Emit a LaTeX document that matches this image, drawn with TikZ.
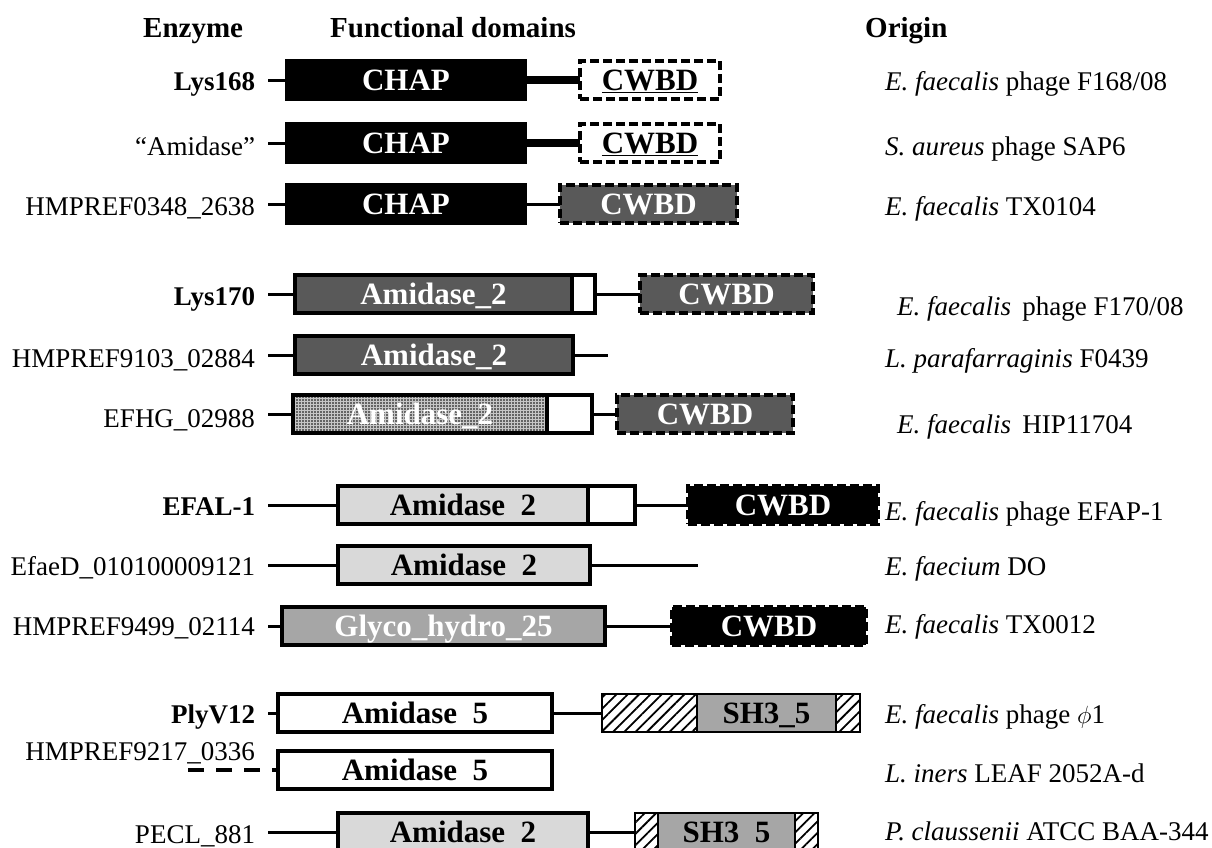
\documentclass[tikz,border=0pt]{standalone}
\usepackage{fontspec}
\setmainfont{Liberation Serif}
\usetikzlibrary{patterns.meta}
\definecolor{dgrey}{HTML}{595959}
\definecolor{lgrey}{HTML}{D9D9D9}
\definecolor{mgrey}{HTML}{A6A6A6}
\newcommand\fsz{\fontsize{27}{30}\selectfont}
\newcommand\dsz{\fontsize{31}{34}\selectfont}
\newcommand\hsz{\fontsize{29}{32}\selectfont}
\tikzset{
  lab/.style={anchor=base east, inner xsep=13pt, inner ysep=0pt, outer sep=0pt, font=\fsz},
  orig/.style={anchor=base west, inner sep=0pt, font=\fsz},
  head/.style={anchor=base west, inner sep=0pt, font=\hsz\bfseries},
  dom/.style={draw=black, line width=3.5pt, minimum height=38pt, inner sep=0pt,
    text height=20.5pt, text depth=0pt, font=\dsz\bfseries, anchor=west, outer sep=0pt},
  cwbd/.style={dom, dash pattern=on 9pt off 4pt},
  hatch/.style={dom, line width=2.5pt, fill=white, pattern={Lines[angle=45,distance=8pt,line width=1.8pt]}, pattern color=black},
  stip/.style={dom, preaction={fill=gray!45}, pattern={Dots[radius=0.9pt,distance=3pt]}, pattern color=black},
  conn/.style={line width=3pt},
  thickconn/.style={line width=8pt},
}
\begin{document}
\begin{tikzpicture}[x=1pt,y=-1pt]
\useasboundingbox (0,0) rectangle (1212,847);
% headers
\node[head] (h1) at (143,37) {Enzyme};
\node[head] (h2) at (330,37) {Functional domains};
\node[head] (h3) at (865,37) {Origin};

% row 1
\node[lab, font=\fsz\bfseries] (l1) at (268,90) {Lys168};
\node[dom, fill=black, text=white, minimum width=238pt] (b1a) at (287,80) {CHAP};
\node[cwbd, fill=white, minimum width=140pt] (b1b) at (580,80) {\underline{CWBD}};
\draw[conn] (l1.east |- b1a.west) -- (b1a.west);
\draw[thickconn] (b1a.east) -- (b1b.west);
\node[orig] (o1) at (885,90) {\textit{E. faecalis} phage F168/08};

% row 2
\node[lab] (l2) at (268,155) {“Amidase”};
\node[dom, fill=black, text=white, minimum width=238pt] (b2a) at (287,143) {CHAP};
\node[cwbd, fill=white, minimum width=140pt] (b2b) at (580,143) {\underline{CWBD}};
\draw[conn] (l2.east |- b2a.west) -- (b2a.west);
\draw[thickconn] (b2a.east) -- (b2b.west);
\node[orig] (o2) at (885,155) {\textit{S. aureus} phage SAP6};

% row 3
\node[lab] (l3) at (268,215) {HMPREF0348\_2638};
\node[dom, fill=black, text=white, minimum width=238pt] (b3a) at (287,204) {CHAP};
\node[cwbd, fill=dgrey, text=white, minimum width=177pt] (b3b) at (560,204) {CWBD};
\draw[conn] (l3.east |- b3a.west) -- (b3a.west);
\draw[conn] (b3a.east) -- (b3b.west);
\node[orig] (o3) at (885,215) {\textit{E. faecalis} TX0104};

% row 4
\node[lab, font=\fsz\bfseries] (l4) at (268,305) {Lys170};
\node[dom, fill=dgrey, text=white, minimum width=277pt] (b4a) at (295,294) {Amidase\_2};
\node[dom, fill=white, minimum width=23pt] (b4b) at (572,294) {};
\node[cwbd, fill=dgrey, text=white, minimum width=173pt] (b4c) at (640,294) {CWBD};
\draw[conn] (l4.east |- b4a.west) -- (b4a.west);
\draw[conn] (b4b.east) -- (b4c.west);
\node[orig] (o4) at (897,315) {\textit{E. faecalis}\, phage F170/08};

% row 5
\node[lab] (l5) at (268,367) {HMPREF9103\_02884};
\node[dom, fill=dgrey, text=white, minimum width=278pt] (b5a) at (295,355) {Amidase\_2};
\coordinate (e5) at (608,355);
\draw[conn] (l5.east |- b5a.west) -- (b5a.west);
\draw[conn] (b5a.east) -- (e5);
\node[orig] (o5) at (885,367) {\textit{L. parafarraginis} F0439};

% row 6
\node[lab] (l6) at (268,427) {EFHG\_02988};
\node[stip, text=white, minimum width=254pt] (b6a) at (293,414) {Amidase\_2};
\node[dom, fill=white, minimum width=45pt] (b6b) at (547,414) {};
\node[cwbd, fill=dgrey, text=white, minimum width=176pt] (b6c) at (617,414) {CWBD};
\draw[conn] (l6.east |- b6a.west) -- (b6a.west);
\draw[conn] (b6b.east) -- (b6c.west);
\node[orig] (o6) at (897,433) {\textit{E. faecalis}\, HIP11704};

% row 7
\node[lab, font=\fsz\bfseries] (l7) at (268,515) {EFAL-1};
\node[dom, fill=lgrey, minimum width=250pt] (b7a) at (338,505) {Amidase\ \ 2};
\node[dom, fill=white, minimum width=47pt] (b7b) at (588,505) {};
\node[cwbd, fill=black, text=white, minimum width=190pt] (b7c) at (688,505) {CWBD};
\draw[conn] (l7.east |- b7a.west) -- (b7a.west);
\draw[conn] (b7b.east) -- (b7c.west);
\node[orig] (o7) at (885,520) {\textit{E. faecalis} phage EFAP-1};

% row 8
\node[lab] (l8) at (268,575) {EfaeD\_010100009121};
\node[dom, fill=lgrey, minimum width=252pt] (b8a) at (338,565) {Amidase\ \ 2};
\coordinate (e8) at (698,565);
\draw[conn] (l8.east |- b8a.west) -- (b8a.west);
\draw[conn] (b8a.east) -- (e8);
\node[orig] (o8) at (885,575) {\textit{E. faecium} DO};

% row 9
\node[lab] (l9) at (268,635) {HMPREF9499\_02114};
\node[dom, fill=mgrey, text=white, minimum width=323pt] (b9a) at (282,626) {Glyco\_hydro\_25};
\node[cwbd, fill=black, text=white, minimum width=194pt] (b9b) at (672,626) {CWBD};
\draw[conn] (l9.east |- b9a.west) -- (b9a.west);
\draw[conn] (b9a.east) -- (b9b.west);
\node[orig] (o9) at (885,633) {\textit{E. faecalis} TX0012};

% row 10
\node[lab, font=\fsz\bfseries] (l10) at (268,723) {PlyV12};
\node[dom, fill=white, minimum width=274pt] (b10a) at (278,713) {Amidase\ \ 5};
\node[hatch, minimum width=95pt] (b10b) at (602,713) {};
\node[dom, line width=2.5pt, fill=mgrey, minimum width=139pt] (b10c) at (697,713) {SH3\_5};
\node[hatch, minimum width=24pt] (b10d) at (836,713) {};
\draw[conn] (l10.east |- b10a.west) -- (b10a.west);
\draw[conn] (b10a.east) -- (b10b.west);
\node[orig] (o10) at (885,723) {\textit{E. faecalis} phage $\phi$1};

% row 11
\node[lab] (l11) at (268,760) {HMPREF9217\_0336};
\node[dom, fill=white, minimum width=274pt] (b11a) at (278,770) {Amidase\ \ 5};
\coordinate (s11) at (188,770);
\draw[conn, line width=3.5pt, dash pattern=on 16pt off 12pt] (s11) -- (b11a.west);
\node[orig] (o11) at (885,782) {\textit{L. iners} LEAF 2052A-d};

% row 12
\node[lab] (l12) at (268,843) {PECL\_881};
\node[dom, fill=lgrey, minimum width=250pt] (b12a) at (338,832) {Amidase\ \ 2};
\node[hatch, minimum width=23pt] (b12b) at (635,832) {};
\node[dom, line width=2.5pt, fill=mgrey, minimum width=137pt] (b12c) at (658,832) {SH3\ \ 5};
\node[hatch, minimum width=23pt] (b12d) at (795,832) {};
\draw[conn] (l12.east |- b12a.west) -- (b12a.west);
\draw[conn] (b12a.east) -- (b12b.west);
\node[orig] (o12) at (885,840) {\textit{P. claussenii} ATCC BAA-344};
\end{tikzpicture}
\end{document}
